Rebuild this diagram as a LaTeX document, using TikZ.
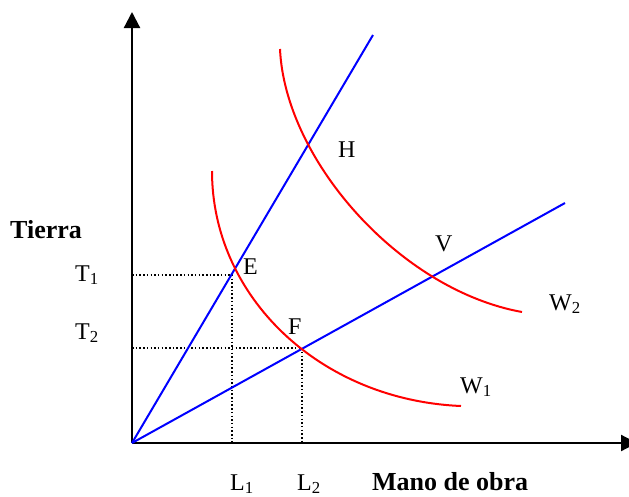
\documentclass[tikz,border=0pt]{standalone}
\usepackage{fontspec}
\setmainfont{Liberation Serif}
\usetikzlibrary{arrows.meta}
\begin{document}
\begin{tikzpicture}[x=1pt,y=-1pt,
  axis/.style={line width=2.2pt,-{Triangle[length=16pt,width=16pt]}},
  ray/.style={blue,line width=2pt},
  iso/.style={red,line width=2pt},
  guide/.style={line width=1.5pt,dash pattern=on 1.5pt off 2.2pt},
  lbl/.style={inner sep=0pt,anchor=base west,font=\fontsize{24}{28}\selectfont},
  blbl/.style={inner sep=0pt,anchor=base west,font=\fontsize{26}{30}\selectfont\bfseries}]
\useasboundingbox (0,0) rectangle (629,496);
\clip (0,0) rectangle (629,496);
% key points
\coordinate (O) at (132,443);
\coordinate (Ytip) at (132,12);
\coordinate (Xtip) at (637,443);
\coordinate (R1) at (373,35);
\coordinate (R2) at (565,203);
\coordinate (Ept) at (232,275);
\coordinate (Fpt) at (302,348);
\coordinate (T1a) at (132,275);
\coordinate (T2a) at (132,348);
\coordinate (L1a) at (232,443);
\coordinate (L2a) at (302,443);
\coordinate (W1s) at (212,171);
\coordinate (W1e) at (461,406);
\coordinate (W2s) at (280,49);
\coordinate (W2e) at (522,312);
% axes
\draw[axis] (O) -- (Ytip);
\draw[axis] (O) -- (Xtip);
% dotted guides
\draw[guide] (T1a) -- (Ept) -- (L1a);
\draw[guide] (T2a) -- (Fpt) -- (L2a);
% rays
\draw[ray] (O) -- (R1);
\draw[ray] (O) -- (R2);
% isoquants
\draw[iso] (W1s) .. controls (212,297) and (320,400) .. (W1e);
\draw[iso] (W2s) .. controls (285,160) and (400,290) .. (W2e);
% labels
\node[blbl] (tierra) at (10,238) {Tierra};
\node[lbl] (t1) at (75,281) {T\textsubscript{1}};
\node[lbl] (t2) at (75,339) {T\textsubscript{2}};
\node[lbl] (e) at (243,274) {E};
\node[lbl] (f) at (288,334) {F};
\node[lbl] (h) at (338,157) {H};
\node[lbl] (v) at (435,251) {V};
\node[lbl] (w2) at (549,310) {W\textsubscript{2}};
\node[lbl] (w1) at (460,393) {W\textsubscript{1}};
\node[lbl] (l1) at (230,490) {L\textsubscript{1}};
\node[lbl] (l2) at (297,490) {L\textsubscript{2}};
\node[blbl] (mano) at (372,490) {Mano de obra};
\end{tikzpicture}
\end{document}
